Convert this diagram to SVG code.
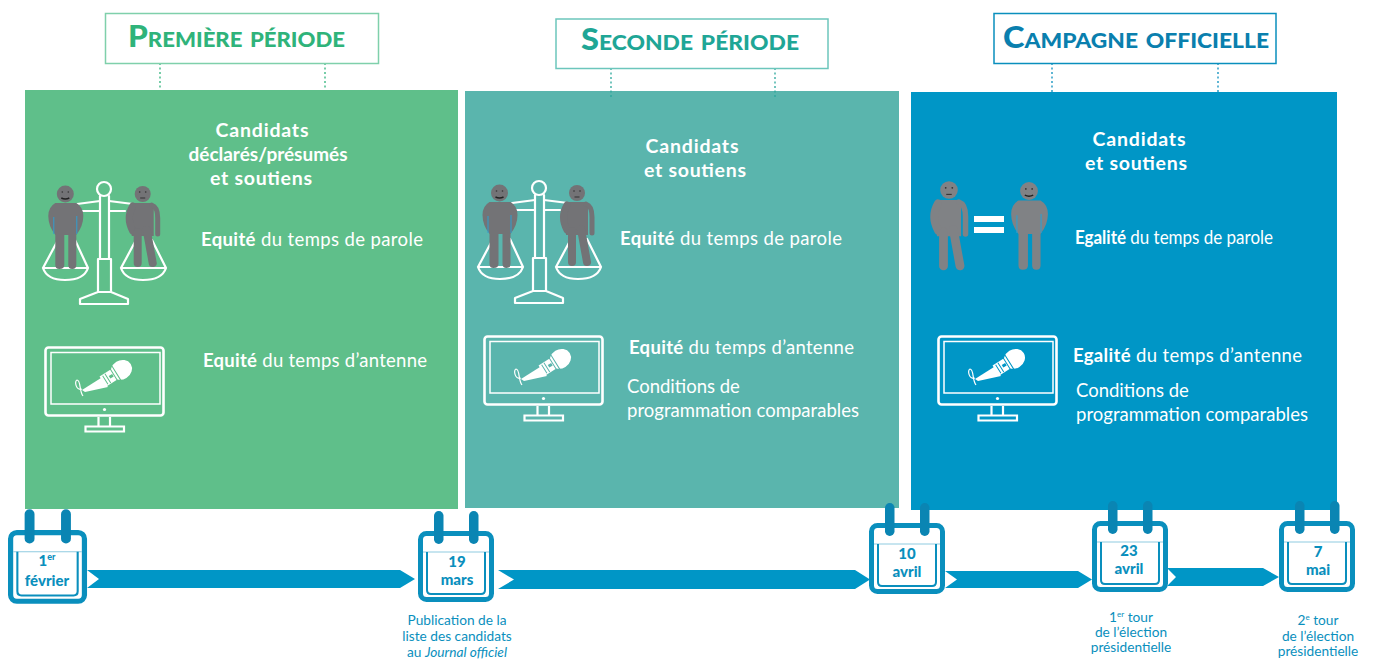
<svg xmlns="http://www.w3.org/2000/svg" xmlns:xlink="http://www.w3.org/1999/xlink" width="1373" height="660" viewBox="0 0 1373 660">
<style>
text{font-family:Lato,"Noto Sans","Liberation Sans",sans-serif}
.h{font-size:19.5px;font-weight:700;fill:#fff;text-anchor:middle}
.b{font-size:18.5px;fill:#fff}
.b tspan{font-weight:700}
.t{font-size:30px;font-weight:900;font-variant:small-caps}
.box{fill:#fff;stroke-width:1.5}
.dot{fill:none;stroke-width:1.3;stroke-dasharray:2 2.5}
.c{font-size:15px;font-weight:900;fill:#0a8fbd;text-anchor:middle}
.l{font-size:13.7px;fill:#0a8fbd;text-anchor:middle}
.w{fill:none;stroke:#fff;stroke-width:2.2;stroke-linejoin:round;stroke-linecap:round}
.g{fill:currentColor}
</style>
<defs>
<g id="cal">
<rect x="2.500" y="2.500" width="71" height="66" rx="6" fill="#fff" stroke="#0a8fbd" stroke-width="5"/>
<line x1="5" y1="21" x2="71" y2="21" stroke="#8fcbe0" stroke-width="1"/>
<path d="M9 21V59Q9 63 13 63H63Q67 63 67 59V21" fill="none" stroke="#0a8fbd" stroke-width="2"/>
<rect x="16" y="-20" width="9.500" height="33" rx="4.700" fill="#0a85b3"/>
<rect x="51" y="-20" width="9.500" height="33" rx="4.700" fill="#0a85b3"/>
</g>
<g id="scale" class="w">
<circle cx="104" cy="189" r="7"/>
<path d="M100 196V259M109 196V259M98 259H111V292H98ZM80 304H128V299L111 292H98L80 299Z"/>
<path d="M100 201L77 204M109 201L133 204M82 211H100M109 211H125"/>
<path d="M43 268H88Q84 280 65 280Q47 280 43 268ZM43 268L58 240M88 268L75 240"/>
<path d="M121 268H166Q162 280 143 280Q125 280 121 268ZM121 268L136 240M166 268L152 240"/>
</g>
<g id="pa">
<circle cx="0" cy="0" r="8.500" class="g"/>
<path class="g" d="M-10 9H11Q18 13 18 22Q18 32 11 41V71Q11 75 7 75Q3 75 3 71V41H-1V71Q-1 75 -6 75Q-10 75 -10 71V41Q-17 32 -17 22Q-17 13 -10 9Z"/>
<path d="M-11.500 23V40M11.500 22V40" stroke="#2f9fd0" stroke-width="1" fill="none"/>
<path d="M-4 4Q0 6 4 4" stroke="#222" stroke-width="1.400" fill="none"/>
<circle cx="-3" cy="-2" r=".8" fill="#333"/><circle cx="3" cy="-2" r=".8" fill="#333"/>
</g>
<g id="pb">
<circle cx="0" cy="0" r="8" class="g"/>
<path class="g" d="M-9 9H8Q12 10 11 14V42H-11V14Q-12 10 -9 9Z"/>
<g fill="none" stroke="currentColor" stroke-linecap="round">
<path d="M-10 12Q-17 24 -10 37" stroke-width="7"/>
<path d="M9 11Q15 13 15 24V40" stroke-width="5"/>
<path d="M-5 38V69" stroke-width="8"/>
<path d="M4 36L10 69" stroke-width="8"/>
</g>
<path d="M-2.500 4H2.500" stroke="#333" stroke-width="1"/>
<circle cx="-3" cy="-2" r=".8" fill="#333"/><circle cx="3" cy="-2" r=".8" fill="#333"/>
</g>
<g id="mon">
<rect x="45.500" y="347.500" width="118" height="68" rx="3" fill="none" stroke="#fff" stroke-width="2.600"/>
<rect x="51" y="352.500" width="109" height="51.500" fill="none" stroke="#fff" stroke-width="1.500"/>
<circle cx="104.500" cy="409.500" r="1.600" fill="#fff"/>
<path d="M98.500 417V426M110 417V426M85.500 426.500H124V431.500H85.500Z" fill="none" stroke="#fff" stroke-width="2.200"/>
<path d="M82 390L101 378L108 387L85 392Z" fill="#fff"/>
<g transform="rotate(-32 118 372)">
<rect x="100" y="366" width="14" height="12" fill="#fff"/>
<ellipse cx="122" cy="372" rx="11" ry="9.500" fill="#fff"/>
<path d="M113 363V381M116 362.500V381.500M103 367V377M106 366.500V377.500" stroke="currentColor" stroke-width="1"/>
<rect x="108" y="370.500" width="4" height="3" fill="currentColor"/>
</g>
<path d="M82 389C76 391 74 381 77 380C81 380 79 391 83 396" fill="none" stroke="#fff" stroke-width="1.200"/>
</g>
</defs>

<g id="panels">
<rect id="panel-1" x="25" y="90" width="433" height="419" fill="#5fbf8a"/>
<rect id="panel-2" x="465" y="91" width="434" height="417" fill="#5ab5ad"/>
<rect id="panel-3" x="911" y="92" width="426" height="418" fill="#0096c6"/>
</g>

<g id="connectors">
<g stroke="#2fb37a" class="dot"><path d="M160 63V90M325 63V90"/></g>
<g stroke="#2aa79b" class="dot"><path d="M611 68V98M775 68V98"/></g>
<g stroke="#0a8fbd" class="dot"><path d="M1052 63V92M1218 63V92"/></g>
<g fill="#0096c6">
<path d="M87 570H400L415 579L400 588H87L99 579Z"/>
<path d="M498 570H855L870 579.500L855 589H498L514 579.500Z"/>
<path d="M945 571H1078L1092 579.500L1078 588H945L957 579.500Z"/>
<path d="M1167 568H1263L1279 577L1263 586H1167L1176 577Z"/>
</g>
</g>

<g id="title-1">
<rect class="box" x="105.500" y="13.500" width="273" height="50" stroke="#7fd0ab"/>
<text class="t" x="128" y="47" fill="#2fb37a" textLength="217" lengthAdjust="spacingAndGlyphs">Première période</text>
</g>
<g id="title-2">
<rect class="box" x="556" y="19" width="272" height="49.500" stroke="#6cc6bc"/>
<text class="t" x="581" y="50" fill="#1fa696" textLength="218" lengthAdjust="spacingAndGlyphs">Seconde période</text>
</g>
<g id="title-3">
<rect class="box" x="994" y="13.500" width="282" height="50" stroke="#0a8fbd"/>
<text class="t" x="1003" y="48" fill="#0a7fae" textLength="266" lengthAdjust="spacingAndGlyphs">Campagne officielle</text>
</g>

<g id="node-1">
<text class="h" x="262" y="137" textLength="93">Candidats</text>
<text class="h" x="268" y="161" textLength="159" lengthAdjust="spacingAndGlyphs">déclarés/présumés</text>
<text class="h" x="261" y="185" textLength="102">et soutiens</text>
<use xlink:href="#scale" href="#scale"/>
<use href="#pa" xlink:href="#pa" x="65.300" y="194" color="#737376"/>
<use href="#pb" xlink:href="#pb" x="142.700" y="194" color="#737376"/>
<text class="b" x="201" y="246" textLength="222"><tspan>Equité</tspan> du temps de parole</text>
<use href="#mon" xlink:href="#mon" color="#5fbf8a"/>
<text class="b" x="203" y="367" textLength="224"><tspan>Equité</tspan> du temps d’antenne</text>
</g>

<g id="node-2">
<text class="h" x="692" y="153" textLength="93">Candidats</text>
<text class="h" x="695" y="177" textLength="102">et soutiens</text>
<use href="#scale" xlink:href="#scale" x="435" y="-1"/>
<use href="#pa" xlink:href="#pa" x="499.500" y="193" color="#737376"/>
<use href="#pb" xlink:href="#pb" x="577" y="193" color="#737376"/>
<text class="b" x="620" y="245" textLength="222"><tspan>Equité</tspan> du temps de parole</text>
<use href="#mon" xlink:href="#mon" x="439" y="-11" color="#5ab5ad"/>
<text class="b" x="629" y="354" textLength="225"><tspan>Equité</tspan> du temps d’antenne</text>
<text class="b" x="627" y="393">Conditions de</text>
<text class="b" x="627" y="417" textLength="232">programmation comparables</text>
</g>

<g id="node-3">
<text class="h" x="1139" y="146" textLength="93">Candidats</text>
<text class="h" x="1136" y="170" textLength="102">et soutiens</text>
<use href="#pb" xlink:href="#pb" transform="translate(949 190) scale(1.100)" color="#808285"/>
<rect x="974" y="216" width="30" height="6" fill="#fff"/>
<rect x="974" y="227" width="30" height="6" fill="#fff"/>
<use href="#pa" xlink:href="#pa" transform="translate(1029 191) scale(1.050)" color="#808285"/>
<text class="b" x="1075" y="244" textLength="198" lengthAdjust="spacingAndGlyphs"><tspan>Egalité</tspan> du temps de parole</text>
<use href="#mon" xlink:href="#mon" x="893" y="-11" color="#0096c6"/>
<text class="b" x="1073" y="362" textLength="229"><tspan>Egalité</tspan> du temps d’antenne</text>
<text class="b" x="1076" y="397">Conditions de</text>
<text class="b" x="1076" y="421" textLength="232">programmation comparables</text>
</g>

<g id="date-1">
<use href="#cal" xlink:href="#cal" transform="translate(8 530) scale(1.040)"/>
<text class="c" x="47" y="566">1<tspan font-size="9" dy="-6">er</tspan></text>
<text class="c" x="47" y="586">février</text>
</g>
<g id="date-2">
<use href="#cal" xlink:href="#cal" x="418" y="531"/>
<text class="c" x="457" y="567">19</text>
<text class="c" x="457" y="585">mars</text>
<text class="l" x="457" y="625">Publication de la</text>
<text class="l" x="457" y="641">liste des candidats</text>
<text class="l" x="457" y="657">au <tspan font-style="italic">Journal officiel</tspan></text>
</g>
<g id="date-3">
<use href="#cal" xlink:href="#cal" x="869" y="523"/>
<text class="c" x="907" y="559">10</text>
<text class="c" x="907" y="577">avril</text>
</g>
<g id="date-4">
<use href="#cal" xlink:href="#cal" x="1092" y="521"/>
<text class="c" x="1129" y="556">23</text>
<text class="c" x="1129" y="574">avril</text>
<text class="l" x="1131" y="622">1<tspan font-size="8" dy="-5">er</tspan><tspan dy="5"> tour</tspan></text>
<text class="l" x="1131" y="637">de l’élection</text>
<text class="l" x="1131" y="652">présidentielle</text>
</g>
<g id="date-5">
<use href="#cal" xlink:href="#cal" x="1279" y="521"/>
<text class="c" x="1318" y="557">7</text>
<text class="c" x="1318" y="575">mai</text>
<text class="l" x="1318" y="625">2<tspan font-size="8" dy="-5">e</tspan><tspan dy="5"> tour</tspan></text>
<text class="l" x="1318" y="641">de l’élection</text>
<text class="l" x="1318" y="656">présidentielle</text>
</g>
</svg>
